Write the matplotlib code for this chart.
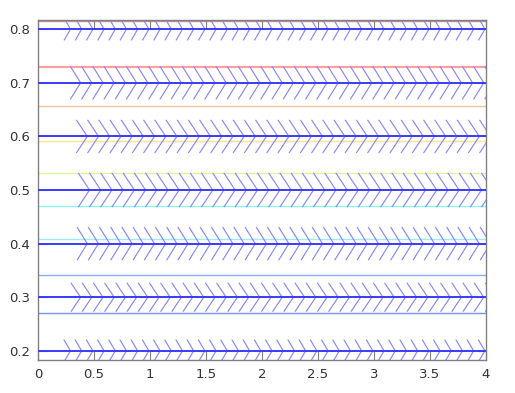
import numpy as np
import matplotlib.pyplot as plt

# rows of chevrons (arrow heads along horizontal lines)
row_y = [0.8, 0.7, 0.6, 0.5, 0.4, 0.3, 0.2]
first_tip = [0.29, 0.38, 0.44, 0.46, 0.44, 0.38, 0.29]
head_len = [0.055, 0.089, 0.095, 0.098, 0.089, 0.083, 0.057]
head_half = [0.020, 0.030, 0.030, 0.031, 0.030, 0.026, 0.020]
step = 0.1

# thin coloured level lines
level_y = [0.816, 0.73, 0.657, 0.592, 0.532, 0.47, 0.409, 0.342, 0.27]
level_colors = ['#c89090', '#ffa0a0', '#ffc098', '#ffe488', '#e0f498',
                '#88f8ec', '#a0eaff', '#90acff', '#7890ff']
level_widths = [1.0, 1.6, 1.0, 1.0, 1.0, 1.0, 1.0, 1.0, 1.0]

fig = plt.figure(figsize=(5.15, 3.93), dpi=100)
ax = fig.add_axes([0.0738, 0.084, 0.8699, 0.865])

for y, c, w in zip(level_y, level_colors, level_widths):
    ax.axhline(y, color=c, lw=w, zorder=1)

for y, t0, hl, hh in zip(row_y, first_tip, head_len, head_half):
    ax.plot([0, 4], [y, y], color='#3a3aff', lw=1.4, zorder=3)
    for t in np.arange(t0, 4.0 + hl + 0.001, step):
        ax.plot([t - hl, t, t - hl], [y + hh, y, y - hh],
                color='#8888ff', lw=0.85, zorder=2, solid_joinstyle='miter')

ax.set_xlim(0, 4)
ax.set_ylim(0.183, 0.817)
ax.set_xticks([0, 0.5, 1, 1.5, 2, 2.5, 3, 3.5, 4])
ax.set_xticklabels(['0', '0.5', '1', '1.5', '2', '2.5', '3', '3.5', '4'])
ax.set_yticks([0.2, 0.3, 0.4, 0.5, 0.6, 0.7, 0.8])
ax.tick_params(direction='in', length=6.5, width=0.8, color='#808080',
               labelcolor='#333333', labelsize=9.5, top=True, right=True)
ax.tick_params(axis='x', pad=6)
ax.tick_params(axis='y', pad=6)
for s in ax.spines.values():
    s.set_color('#808080')
    s.set_linewidth(1.0)

fig.savefig('out.png', dpi=100)
